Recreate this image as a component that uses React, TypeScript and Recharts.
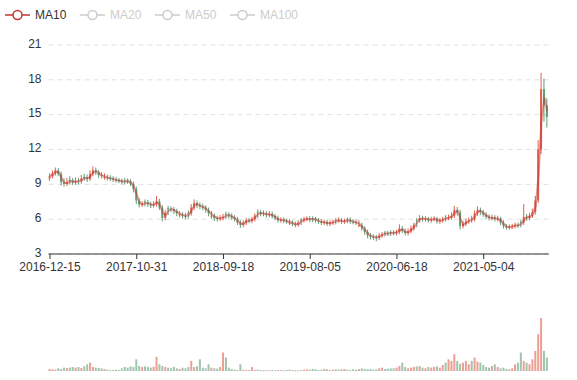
import React from "react";
import { ComposedChart, Bar, Line, XAxis, YAxis, CartesianGrid } from "recharts";

const tickIndexes = [0, 30, 60, 90, 120, 150];
const tickLabels = ["2016-12-15", "2017-10-31", "2018-09-18", "2019-08-05", "2020-06-18", "2021-05-04"];
const priceTicks = [3, 6, 9, 12, 15, 18, 21];
const legendNames = ["MA10", "MA20", "MA50", "MA100"];

// one candle is roughly 7 trading days
const opens = [
  9.5, 9.7, 9.95, 10.2, 9.9, 9.2, 9.05, 9.4, 9.35, 9.15,
  9.3, 9.25, 9.65, 9.6, 9.45, 9.9, 10.2, 10.05, 9.8, 9.55,
  9.6, 9.55, 9.5, 9.4, 9.35, 9.3, 9.35, 9.3, 9.25, 9.05,
  8.6, 7.6, 7.25, 7.5, 7.45, 7.3, 7.2, 7.3, 7.55, 7.0,
  6.1, 6.95, 6.9, 6.85, 6.7, 6.35, 6.4, 6.3, 6.55, 6.5,
  7.0, 7.4, 7.2, 7.1, 7.0, 6.8, 6.25, 6.3, 6.1, 6.05,
  6.1, 6.45, 6.4, 6.3, 6.15, 6.0, 5.7, 5.5, 5.7, 5.9,
  5.85, 6.0, 6.65, 6.6, 6.55, 6.5, 6.35, 6.45, 6.25, 6.1,
  5.9, 5.95, 5.85, 5.65, 5.7, 5.6, 5.5, 5.95, 5.9, 6.0,
  6.05, 6.1, 6.05, 5.9, 5.8, 5.7, 5.75, 5.6, 5.7, 5.95,
  5.9, 5.9, 5.8, 6.0, 5.95, 5.8, 5.75, 5.45, 5.5, 5.2,
  4.9, 4.6, 4.5, 4.45, 4.4, 4.6, 4.85, 4.8, 4.9, 4.85,
  4.8, 4.9, 5.2, 5.0, 4.8, 4.95, 5.2, 5.95, 5.9, 6.1,
  6.0, 6.05, 5.9, 6.0, 6.05, 5.8, 5.9, 6.15, 6.1, 6.15,
  6.3, 6.8, 6.6, 5.4, 5.6, 5.8, 6.05, 6.0, 6.5, 6.8,
  6.6, 6.4, 6.2, 6.1, 6.15, 6.0, 6.05, 5.7, 5.4, 5.3,
  5.35, 5.4, 5.5, 5.75, 5.7, 6.2, 6.1, 6.3, 6.6, 7.6,
  12.0, 17.2, 15.8,
];

const closes = [
  9.7, 9.95, 10.2, 9.9, 9.2, 9.05, 9.2, 9.35, 9.15, 9.3,
  9.25, 9.5, 9.6, 9.45, 9.9, 10.2, 10.05, 9.8, 9.75, 9.6,
  9.55, 9.5, 9.4, 9.35, 9.3, 9.2, 9.3, 9.25, 9.05, 8.6,
  7.6, 7.25, 7.3, 7.45, 7.3, 7.2, 7.3, 7.55, 7.0, 6.1,
  6.55, 6.9, 6.85, 6.7, 6.5, 6.4, 6.3, 6.25, 6.5, 7.0,
  7.4, 7.2, 7.1, 7.0, 6.8, 6.5, 6.3, 6.1, 6.05, 6.1,
  6.2, 6.4, 6.3, 6.15, 6.0, 5.7, 5.5, 5.7, 5.9, 5.85,
  6.0, 6.3, 6.6, 6.45, 6.5, 6.35, 6.45, 6.25, 6.1, 5.9,
  5.95, 5.85, 5.8, 5.7, 5.6, 5.5, 5.7, 5.9, 6.0, 6.05,
  5.95, 6.05, 5.9, 5.8, 5.7, 5.75, 5.6, 5.7, 5.75, 5.9,
  5.9, 5.8, 5.85, 5.95, 5.8, 5.75, 5.7, 5.5, 5.2, 4.9,
  4.6, 4.5, 4.45, 4.4, 4.6, 4.7, 4.8, 4.75, 4.85, 4.8,
  4.9, 5.2, 5.0, 4.8, 4.95, 5.2, 5.5, 5.9, 6.1, 6.0,
  6.05, 5.9, 6.0, 6.05, 5.8, 5.9, 6.0, 6.1, 6.15, 6.3,
  6.8, 6.6, 5.4, 5.6, 5.8, 5.9, 6.0, 6.5, 6.8, 6.6,
  6.4, 6.2, 6.1, 6.15, 6.0, 6.05, 5.7, 5.4, 5.3, 5.35,
  5.4, 5.5, 5.45, 5.7, 6.2, 6.1, 6.3, 6.6, 7.6, 12.0,
  17.2, 15.8, 14.8,
];

const highs = [
  9.95, 10.2, 10.45, 10.4, 10.1, 9.5, 9.55, 9.7, 9.55, 9.6,
  9.55, 9.8, 9.9, 9.85, 10.2, 10.55, 10.45, 10.25, 10.05, 9.95,
  9.85, 9.8, 9.7, 9.65, 9.55, 9.5, 9.55, 9.5, 9.45, 9.25,
  8.8, 7.8, 7.55, 7.7, 7.65, 7.5, 7.55, 8.0, 7.75, 7.2,
  6.8, 7.15, 7.1, 7.05, 6.9, 6.7, 6.6, 6.55, 6.75, 7.3,
  7.7, 7.6, 7.45, 7.35, 7.2, 7.0, 6.7, 6.5, 6.3, 6.35,
  6.45, 6.65, 6.6, 6.5, 6.35, 6.2, 5.9, 5.9, 6.1, 6.1,
  6.2, 6.5, 6.85, 6.8, 6.75, 6.7, 6.7, 6.65, 6.45, 6.3,
  6.15, 6.15, 6.05, 6.0, 5.9, 5.8, 5.9, 6.1, 6.2, 6.25,
  6.25, 6.25, 6.2, 6.1, 6.0, 5.95, 5.95, 5.9, 5.95, 6.1,
  6.15, 6.1, 6.05, 6.15, 6.15, 6.0, 5.95, 5.9, 5.7, 5.4,
  5.1, 4.8, 4.7, 4.65, 4.8, 4.9, 5.0, 5.0, 5.05, 5.05,
  5.1, 5.55, 5.4, 5.2, 5.2, 5.45, 5.7, 6.1, 6.35, 6.3,
  6.25, 6.2, 6.2, 6.25, 6.2, 6.1, 6.2, 6.35, 6.4, 6.6,
  7.15, 7.05, 6.8, 5.85, 6.05, 6.15, 6.3, 6.75, 7.1, 7.0,
  6.8, 6.6, 6.4, 6.4, 6.35, 6.3, 6.2, 5.9, 5.6, 5.55,
  5.6, 5.7, 5.7, 5.95, 7.3, 6.45, 6.55, 6.9, 8.0, 12.8,
  18.6, 18.1, 16.4,
];

const lows = [
  9.3, 9.5, 9.75, 9.7, 8.9, 8.8, 8.85, 9.0, 8.95, 8.95,
  9.0, 9.05, 9.3, 9.2, 9.3, 9.7, 9.8, 9.55, 9.5, 9.4,
  9.35, 9.3, 9.2, 9.15, 9.1, 9.0, 9.0, 9.05, 8.85, 8.3,
  7.3, 7.0, 7.05, 7.1, 7.05, 6.95, 7.0, 7.1, 6.8, 5.8,
  5.9, 6.35, 6.6, 6.45, 6.25, 6.15, 6.05, 6.0, 6.05, 6.3,
  6.8, 6.95, 6.85, 6.75, 6.55, 6.25, 6.05, 5.85, 5.8, 5.85,
  5.9, 6.0, 6.05, 5.95, 5.8, 5.5, 5.25, 5.3, 5.5, 5.65,
  5.65, 5.8, 6.1, 6.25, 6.25, 6.15, 6.15, 6.05, 5.9, 5.7,
  5.7, 5.65, 5.6, 5.5, 5.4, 5.3, 5.35, 5.5, 5.7, 5.8,
  5.75, 5.75, 5.7, 5.6, 5.5, 5.5, 5.4, 5.4, 5.5, 5.55,
  5.7, 5.6, 5.6, 5.65, 5.6, 5.55, 5.5, 5.3, 5.0, 4.65,
  4.35, 4.25, 4.2, 4.1, 4.2, 4.4, 4.5, 4.55, 4.55, 4.6,
  4.6, 4.7, 4.8, 4.6, 4.6, 4.8, 5.0, 5.3, 5.7, 5.8,
  5.8, 5.7, 5.7, 5.8, 5.6, 5.6, 5.7, 5.8, 5.9, 5.95,
  6.1, 6.3, 5.1, 5.2, 5.4, 5.6, 5.7, 5.8, 6.3, 6.35,
  6.2, 6.0, 5.9, 5.9, 5.8, 5.8, 5.5, 5.2, 5.1, 5.1,
  5.15, 5.2, 5.25, 5.3, 5.5, 5.85, 5.9, 6.1, 6.4, 7.4,
  11.6, 14.4, 13.9,
];

const volumes = [
  6, 5, 4, 8, 6, 10, 9, 10, 12, 10,
  12, 9, 14, 20, 25, 12, 10, 9, 8, 6,
  4, 3, 3, 4, 3, 8, 12, 10, 14, 12,
  35, 15, 12, 14, 12, 10, 13, 42, 20, 15,
  12, 10, 8, 12, 8, 6, 10, 8, 12, 30,
  12, 14, 35, 10, 8, 20, 10, 8, 7, 12,
  55, 40, 10, 6, 4, 3, 20, 4, 3, 3,
  12, 3, 4, 3, 2, 3, 2, 3, 2, 3,
  3, 2, 3, 4, 3, 2, 2, 3, 4, 5,
  4, 6, 5, 3, 4, 6, 5, 3, 4, 5,
  4, 5, 6, 4, 3, 5, 4, 6, 8, 6,
  5, 6, 4, 5, 8, 10, 6, 7, 8, 8,
  10, 15, 25, 12, 8, 10, 12, 14, 15, 10,
  8, 12, 10, 12, 14, 10, 18, 25, 35, 30,
  50, 30, 22, 25, 30, 20, 30, 40, 28, 25,
  18, 12, 10, 15, 20, 12, 8, 10, 6, 5,
  8, 20, 25, 55, 30, 25, 20, 35, 60, 110,
  158, 60, 40,
];

const UP = "#e0604c";
const DOWN = "#5f9e78";
const MA_COLOR = "#c23531";
const FONT = "'Liberation Sans', Arial, sans-serif";
const MA_WINDOW = 2; // ~10 trading days at this candle size

const data = closes.map((close, i) => {
  const from = Math.max(0, i - MA_WINDOW + 1);
  const win = closes.slice(from, i + 1);
  return {
    i,
    open: opens[i],
    close,
    high: highs[i],
    low: lows[i],
    range: [lows[i], highs[i]],
    volume: volumes[i],
    up: close >= opens[i],
    ma: win.reduce((a, b) => a + b, 0) / win.length,
  };
});

function Candle(props: any) {
  const { x, y, width, height, payload } = props;
  if (x == null || !payload) return null;
  const top = Math.min(y, y + height);
  const h = Math.abs(height);
  const span = payload.high - payload.low || 1;
  const toY = (v: number) => top + ((payload.high - v) / span) * h;
  const color = payload.up ? UP : DOWN;
  const bodyTop = toY(Math.max(payload.open, payload.close));
  const bodyBottom = toY(Math.min(payload.open, payload.close));
  const cx = x + width / 2;
  return (
    <g>
      <line x1={cx} x2={cx} y1={top} y2={top + h} stroke={color} strokeWidth={1} />
      <rect x={x} y={bodyTop} width={width} height={Math.max(1, bodyBottom - bodyTop)} fill={color} />
    </g>
  );
}

function VolumeBar(props: any) {
  const { x, y, width, height, payload } = props;
  if (x == null || !payload) return null;
  return (
    <rect
      x={x}
      y={y}
      width={width}
      height={Math.max(1, height)}
      fill={payload.up ? UP : DOWN}
      fillOpacity={0.6}
    />
  );
}

function DateTick({ x, y, payload }: any) {
  const k = tickIndexes.indexOf(payload.value);
  if (k < 0) return null;
  return (
    <g>
      <line x1={x} x2={x} y1={y - 8} y2={y - 3} stroke="#333" />
      <text x={x} y={y} dy="0.71em" textAnchor="middle" fontSize={12} fill="#333" fontFamily={FONT}>
        {tickLabels[k]}
      </text>
    </g>
  );
}

function PriceTick({ x, y, payload }: any) {
  return (
    <text x={x} y={y - 1.5} dy="0.355em" textAnchor="end" fontSize={12} fill="#333" fontFamily={FONT}>
      {payload.value}
    </text>
  );
}

function LegendRow() {
  return (
    <div style={{ position: "absolute", left: 0, top: 0, width: 577, height: 30 }}>
      {legendNames.map((name, k) => {
        const color = k === 0 ? MA_COLOR : "#ccc";
        const left = 5 + k * 75;
        return (
          <div key={name} style={{ position: "absolute", left, top: 8, height: 14, display: "flex", alignItems: "center" }}>
            <svg width={25} height={14}>
              <line x1={0} x2={25} y1={7} y2={7} stroke={color} strokeWidth={1.5} />
              <circle cx={12.5} cy={7} r={4.5} fill="#fff" stroke={color} strokeWidth={1.5} />
            </svg>
            <span style={{ marginLeft: 5, fontSize: 12, fontFamily: FONT, color: k === 0 ? "#333" : "#ccc", lineHeight: "14px" }}>
              {name}
            </span>
          </div>
        );
      })}
    </div>
  );
}

export default function App() {
  return (
    <div style={{ position: "absolute", left: 0, top: 0, width: 577, height: 380, background: "#fff" }}>
      <LegendRow />
      <div style={{ position: "absolute", left: 0, top: 0 }}>
        <ComposedChart width={577} height={280} data={data} margin={{ top: 45, right: 28.25, bottom: 0, left: 8.55 }}>
          <CartesianGrid vertical={false} stroke="#e0e0e0" strokeDasharray="5 4" />
          <XAxis
            dataKey="i"
            type="category"
            interval={0}
            height={26}
            axisLine={{ stroke: "#333" }}
            tickLine={false}
            tickSize={5}
            tickMargin={3}
            tick={<DateTick />}
          />
          <YAxis
            domain={[3, 21]}
            ticks={priceTicks}
            width={40}
            axisLine={false}
            tickLine={false}
            tickMargin={1}
            tick={<PriceTick />}
          />
          <Bar dataKey="range" shape={<Candle />} barSize={2} isAnimationActive={false} />
          <Line
            dataKey="ma"
            type="linear"
            stroke={MA_COLOR}
            strokeOpacity={0.5}
            strokeWidth={2}
            dot={false}
            activeDot={false}
            isAnimationActive={false}
          />
        </ComposedChart>
      </div>
      <div style={{ position: "absolute", left: 0, top: 290 }}>
        <ComposedChart width={577} height={90} data={data} margin={{ top: 14, right: 28.25, bottom: 9, left: 48.55 }}>
          <XAxis dataKey="i" type="category" hide />
          <YAxis domain={[0, 200]} hide />
          <Bar dataKey="volume" shape={<VolumeBar />} barSize={2} isAnimationActive={false} />
        </ComposedChart>
      </div>
    </div>
  );
}
